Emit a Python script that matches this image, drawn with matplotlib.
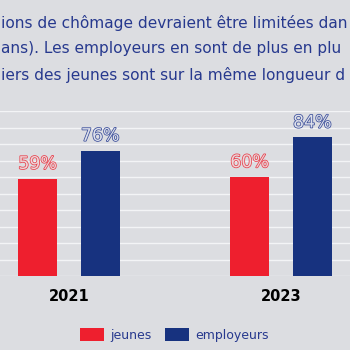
import matplotlib.pyplot as plt
import matplotlib.patheffects as pe
import numpy as np

years = ["2021", "2023"]
jeunes = [59, 60]
employeurs = [76, 84]
series_names = ["jeunes", "employeurs"]
text_lines = [
    "ions de chômage devraient être limitées dan",
    "ans). Les employeurs en sont de plus en plu",
    "iers des jeunes sont sur la même longueur d",
]

BG = "#dcdde1"
RED = "#ee1f2e"
BLUE = "#17327f"
TXT_BLUE = "#27398e"

fig = plt.figure(figsize=(3.5, 3.5), dpi=100, facecolor=BG)
ax = fig.add_axes([0, 0.2114, 1, 0.4714], facecolor=BG)

x = np.arange(len(years))
w = 0.184
off = 0.1476
b1 = ax.bar(x - off, jeunes, w, color=RED, zorder=3)
b2 = ax.bar(x + off, employeurs, w, color=BLUE, zorder=3)

# hollow-looking value labels
for bars, vals, col, fill in [(b1, jeunes, "#e8404c", "#ecd6d9"), (b2, employeurs, "#3a4d9a", "#dde0ea")]:
    for r, v in zip(bars, vals):
        ax.text(r.get_x() + r.get_width() / 2, v + 9, f"{v}%",
                ha="center", va="center", fontsize=12.5, color=fill,
                path_effects=[pe.Stroke(linewidth=1.1, foreground=col), pe.Normal()],
                zorder=4)

ax.set_xlim(-0.3255, 1.3255)
ax.set_ylim(0, 100)
ax.set_yticks(np.arange(0, 101, 10))
ax.grid(axis="y", color="#f3f4f6", lw=1.0, zorder=0)
ax.tick_params(left=False, bottom=False, labelleft=False)
ax.set_xticks(x)
ax.set_xticklabels(years, fontsize=10.5, fontweight="bold", color="black")
ax.tick_params(axis="x", pad=6)
for s in ax.spines.values():
    s.set_visible(False)

for i, line in enumerate(text_lines):
    fig.text(0.003, 1 - (23 + 26 * i) / 350, line, ha="left", va="center",
             fontsize=11.1, color=TXT_BLUE)

fig.legend([b1, b2], series_names, loc="center", bbox_to_anchor=(0.4986, 0.043),
           ncol=2, frameon=False, fontsize=9, labelcolor=TXT_BLUE,
           handlelength=1.9, handleheight=1.25, handletextpad=0.5, columnspacing=1.1)

fig.savefig("out.png", dpi=100, facecolor=BG)
